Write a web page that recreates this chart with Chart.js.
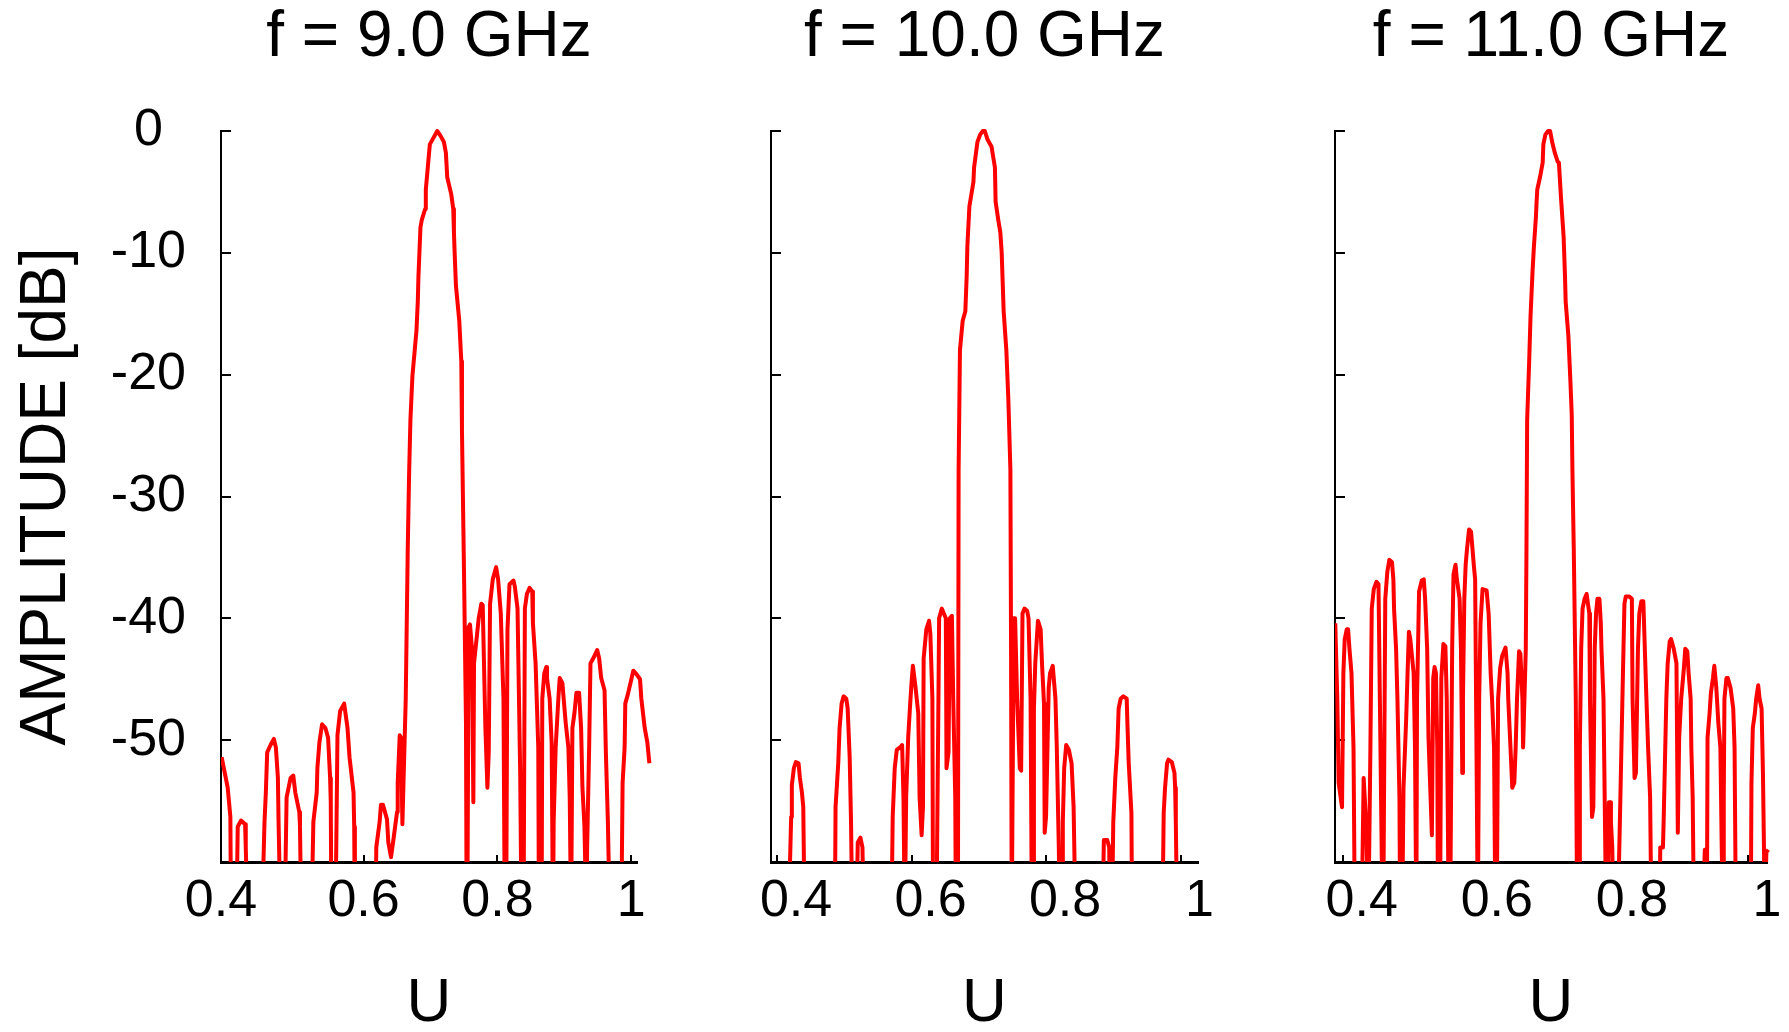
<!DOCTYPE html>
<html>
<head>
<meta charset="utf-8">
<script src="https://cdn.jsdelivr.net/npm/chart.js@4"></script>
<style>
  html, body { margin: 0; padding: 0; background: #fff; overflow: hidden; }
  #wrap { position: relative; width: 1789px; height: 1032px; }
  canvas { position: absolute; top: 0; }
</style>
</head>
<body>
<div id="wrap">
  <canvas id="c9" width="680" height="1032" style="left:0px"></canvas>
  <canvas id="c10" width="540" height="1032" style="left:700px"></canvas>
  <canvas id="c11" width="519" height="1032" style="left:1270px"></canvas>
</div>
<script>
const xTicks = [0.4, 0.6, 0.8, 1];
const yTicks = [-50, -40, -30, -20, -10, 0];
const titles = ['f = 9.0 GHz', 'f = 10.0 GHz', 'f = 11.0 GHz'];

// f = 9.0 GHz  (values below -60 dB are off the axis)
const u9 = [
  0.388, 0.397, 0.401, 0.402,
  0.410, 0.412, 0.417, 0.423, 0.424, 0.427,
  0.448, 0.452, 0.454, 0.456, 0.461, 0.466, 0.469, 0.472, 0.473, 0.476,
  0.482, 0.485, 0.491, 0.495, 0.498, 0.504, 0.505, 0.507,
  0.522, 0.525, 0.530, 0.531, 0.534, 0.538, 0.543, 0.547, 0.550, 0.551, 0.552,
  0.558, 0.561, 0.565, 0.571, 0.576, 0.579, 0.585, 0.586, 0.587,
  0.618, 0.619, 0.624, 0.626, 0.629, 0.635, 0.637, 0.641, 0.645, 0.650, 0.651, 0.654, 0.656, 0.658,
  0.663, 0.666, 0.668, 0.670, 0.673, 0.679, 0.681, 0.682, 0.685, 0.687, 0.692, 0.693, 0.699, 0.705, 0.710,
  0.715, 0.720, 0.723, 0.724, 0.725, 0.731, 0.734, 0.735, 0.736, 0.738, 0.743, 0.746, 0.747, 0.750, 0.753, 0.754,
  0.755, 0.757, 0.759, 0.762, 0.764, 0.765, 0.772, 0.776, 0.778, 0.782, 0.785, 0.787, 0.789, 0.793, 0.798, 0.801, 0.805, 0.809, 0.811,
  0.813, 0.815, 0.818, 0.824, 0.826, 0.830, 0.834, 0.836,
  0.839, 0.841, 0.844, 0.848, 0.852, 0.853, 0.857, 0.861, 0.862,
  0.866, 0.867, 0.870, 0.873, 0.874, 0.878, 0.881, 0.883,
  0.884, 0.887, 0.891, 0.893, 0.897, 0.902, 0.906, 0.908, 0.910,
  0.912, 0.915, 0.918, 0.922, 0.925, 0.927, 0.930, 0.933,
  0.934, 0.937, 0.939, 0.943, 0.949, 0.952, 0.955, 0.960, 0.962, 0.965, 0.968,
  0.985, 0.987, 0.990, 0.991, 0.995, 1.003, 1.008, 1.013, 1.015, 1.020, 1.024, 1.027
];
const amp9 = [
  -51.4, -53.9, -56.3, -65,
  -65, -57.1, -56.6, -56.9, -58.8, -65,
  -65, -56.7, -54.3, -51.0, -50.4, -49.9, -50.6, -53.1, -56.7, -65,
  -65, -54.7, -53.1, -52.9, -54.3, -55.9, -57.1, -65,
  -65, -56.7, -54.3, -52.3, -50.2, -48.7, -49.0, -49.8, -53.1, -55.1, -65,
  -65, -49.6, -47.6, -47.0, -49.0, -51.4, -54.3, -57.1, -65,
  -65, -58.8, -56.7, -55.3, -55.3, -56.5, -58.4, -59.6, -58.0, -55.9, -53.5, -49.6, -49.8, -56.9,
  -46.6, -34.3, -28.2, -23.7, -20.1, -16.4, -14.0, -11.9, -7.9, -7.3, -6.4, -4.8, -1.1, -0.5, 0,
  -0.4, -0.9, -1.8, -2.8, -3.8, -5.2, -6.4, -8.3, -9.9, -12.7, -15.6, -18.9, -24.6, -36.0, -48.6, -65,
  -65, -40.7, -40.5, -42.5, -55.1, -43.7, -40.0, -38.8, -38.9, -49.0, -53.9, -51.0, -38.8, -36.8, -35.8, -36.8, -39.6, -46.6, -65,
  -65, -40.9, -37.2, -36.9, -37.4, -39.2, -52.7, -65,
  -65, -39.2, -38.0, -37.5, -37.8, -40.4, -43.7, -50.6, -65,
  -65, -46.6, -44.5, -44.0, -44.9, -46.6, -50.2, -65,
  -56.7, -50.6, -46.6, -44.9, -45.3, -48.6, -50.6, -54.7, -65,
  -49.0, -47.8, -46.1, -46.1, -49.0, -53.9, -57.1, -65,
  -58.8, -50.6, -43.7, -43.3, -42.6, -43.3, -44.9, -45.9, -51.0, -56.7, -65,
  -65, -53.5, -50.6, -47.0, -46.2, -44.3, -44.6, -45.0, -46.6, -49.0, -50.2, -51.9
];

// f = 10.0 GHz
const u10 = [
  0.391, 0.417, 0.421, 0.422, 0.425, 0.428, 0.432, 0.434, 0.437, 0.439, 0.441,
  0.486, 0.487, 0.491, 0.493, 0.496, 0.499, 0.503, 0.505, 0.508, 0.510, 0.512,
  0.518, 0.520, 0.524, 0.527, 0.529,
  0.570, 0.572, 0.575, 0.578, 0.583, 0.586, 0.588, 0.590,
  0.592, 0.595, 0.598, 0.600, 0.602, 0.606, 0.610, 0.612, 0.615, 0.617, 0.618, 0.620, 0.622, 0.626, 0.628, 0.631, 0.632,
  0.637, 0.640, 0.641, 0.645, 0.648, 0.651, 0.652, 0.655, 0.657, 0.660, 0.662, 0.665, 0.666,
  0.669, 0.670, 0.672, 0.676, 0.680, 0.682, 0.683, 0.686, 0.692, 0.693, 0.698, 0.702, 0.706, 0.709,
  0.713, 0.719, 0.724, 0.725, 0.729, 0.732, 0.734, 0.737, 0.741, 0.744, 0.747, 0.748, 0.749,
  0.752, 0.754, 0.757, 0.761, 0.763, 0.765, 0.768, 0.772, 0.774, 0.777, 0.779,
  0.781, 0.782, 0.784, 0.788, 0.792, 0.794, 0.797, 0.798, 0.800, 0.804, 0.806, 0.810, 0.814, 0.816, 0.819, 0.821,
  0.824, 0.825, 0.827, 0.830, 0.834, 0.838, 0.841, 0.844,
  0.884, 0.886, 0.891, 0.894, 0.895,
  0.898, 0.900, 0.903, 0.906, 0.908, 0.911, 0.915, 0.920, 0.921, 0.923, 0.927, 0.928,
  0.973, 0.975, 0.977, 0.980, 0.982, 0.987, 0.991, 0.992, 0.993, 0.995, 1.026
];
const amp10 = [
  -65, -65, -56.3, -53.7, -52.3, -51.8, -51.9, -53.1, -54.3, -55.5, -65,
  -65, -55.5, -51.9, -49.0, -47.0, -46.4, -46.6, -47.4, -51.4, -56.7, -65,
  -65, -58.4, -58.0, -58.8, -65,
  -65, -56.3, -52.3, -50.8, -50.6, -50.4, -54.7, -65,
  -54.7, -49.8, -47.0, -45.3, -43.9, -45.7, -47.8, -54.7, -57.8, -55.5, -43.3, -42.1, -40.9, -40.2, -41.3, -46.6, -65,
  -65, -46.6, -40.0, -39.2, -39.6, -40.0, -52.3, -51.0, -40.0, -39.8, -46.6, -54.7, -65,
  -65, -27.8, -18.0, -15.6, -14.8, -11.9, -9.5, -6.2, -4.2, -3.0, -0.9, -0.3, 0, 0,
  -0.7, -1.3, -3.0, -5.8, -7.3, -8.3, -9.9, -14.8, -18.0, -22.1, -27.8, -42.5, -65,
  -40.0, -40.0, -46.6, -52.3, -52.5, -39.6, -39.2, -39.4, -40.0, -46.6, -65,
  -65, -47.4, -43.7, -40.2, -40.9, -43.7, -47.0, -57.6, -56.3, -45.7, -44.5, -43.9, -46.6, -50.6, -58.8, -65,
  -65, -56.7, -52.3, -50.4, -50.8, -51.9, -55.5, -65,
  -65, -58.2, -58.2, -58.8, -65,
  -65, -56.7, -53.1, -50.6, -47.4, -46.6, -46.4, -46.6, -48.6, -51.9, -56.0, -65,
  -65, -56.0, -53.9, -51.9, -51.6, -51.8, -52.7, -53.9, -56.7, -65, -65
];

// f = 11.0 GHz
const u11 = [
  0.389, 0.392, 0.394, 0.399, 0.400, 0.401, 0.403, 0.406, 0.408, 0.410, 0.413, 0.416, 0.418,
  0.428, 0.431, 0.435, 0.438,
  0.441, 0.443, 0.446, 0.450, 0.453, 0.455, 0.459,
  0.460, 0.463, 0.466, 0.469, 0.473, 0.475, 0.476, 0.479, 0.481, 0.484, 0.485,
  0.488, 0.490, 0.494, 0.496, 0.498, 0.500, 0.505, 0.507, 0.509,
  0.510, 0.512, 0.513, 0.517, 0.520, 0.522, 0.525, 0.527, 0.532, 0.534, 0.536, 0.538, 0.540, 0.541,
  0.544, 0.546, 0.549, 0.552, 0.554, 0.557,
  0.559, 0.562, 0.564, 0.567, 0.569, 0.573, 0.575, 0.577, 0.578, 0.580, 0.582, 0.584, 0.587, 0.590, 0.594, 0.596, 0.598, 0.600,
  0.602, 0.604, 0.607, 0.613, 0.616, 0.619, 0.621, 0.624, 0.626,
  0.628, 0.630, 0.633, 0.636, 0.641, 0.644, 0.645, 0.648, 0.651, 0.654, 0.656, 0.658, 0.661, 0.663, 0.666, 0.667,
  0.671, 0.672, 0.673, 0.676, 0.678, 0.681, 0.683, 0.686, 0.687, 0.688, 0.692, 0.696, 0.697, 0.700, 0.704,
  0.707, 0.710, 0.714, 0.718, 0.720, 0.723, 0.727, 0.729, 0.730, 0.734, 0.737, 0.739, 0.740, 0.742, 0.745, 0.747,
  0.750, 0.751, 0.753, 0.755, 0.758, 0.761, 0.765, 0.766, 0.769, 0.771, 0.773, 0.775, 0.777, 0.780, 0.782, 0.783, 0.786, 0.790,
  0.792, 0.794, 0.796, 0.797, 0.799, 0.801,
  0.807, 0.811, 0.814, 0.817, 0.819, 0.824, 0.828, 0.829, 0.832, 0.834, 0.837, 0.839, 0.842, 0.845, 0.846, 0.849, 0.852, 0.855, 0.857,
  0.869, 0.870, 0.874, 0.875, 0.879, 0.881, 0.884, 0.886, 0.890, 0.894, 0.896, 0.898, 0.901, 0.905, 0.907, 0.910, 0.912, 0.915, 0.916, 0.918, 0.920,
  0.932, 0.936, 0.938, 0.939, 0.940, 0.943, 0.945, 0.948, 0.950, 0.953, 0.956, 0.959, 0.961, 0.963,
  0.964, 0.965, 0.968, 0.970, 0.974, 0.978, 0.980, 0.982,
  1.004, 1.005, 1.007, 1.010, 1.012, 1.015, 1.017, 1.020, 1.022, 1.025, 1.027, 1.030
];
const amp11 = [
  -40.4, -46.6, -53.5, -55.5, -55.5, -44.5, -41.7, -40.9, -40.9, -42.5, -44.5, -50.6, -65,
  -65, -53.1, -57.1, -65,
  -50.6, -39.2, -37.6, -37.0, -37.2, -46.6, -65,
  -65, -38.4, -36.2, -35.2, -35.4, -36.8, -39.2, -42.5, -46.6, -54.7, -65,
  -65, -53.9, -48.2, -44.5, -41.1, -41.7, -44.5, -50.6, -65,
  -46.6, -40.9, -37.8, -36.9, -36.8, -38.4, -42.5, -49.8, -57.8, -44.9, -44.0, -44.5, -50.6, -65,
  -65, -44.9, -42.1, -42.3, -46.6, -65,
  -65, -42.5, -36.4, -35.6, -36.8, -38.4, -42.5, -52.7, -46.6, -38.4, -35.6, -34.3, -32.7, -32.9, -35.6, -36.8, -50.6, -65,
  -46.6, -40.4, -37.6, -37.7, -39.6, -44.5, -46.6, -50.6, -65,
  -65, -46.6, -44.1, -43.1, -42.4, -44.5, -46.6, -50.2, -53.9, -53.5, -50.6, -46.6, -42.7, -42.9, -46.6, -50.6,
  -42.5, -34.3, -23.7, -18.9, -15.2, -11.5, -9.5, -7.0, -5.8, -4.8, -3.8, -2.6, -1.1, -0.3, 0,
  0, -0.9, -1.8, -2.5, -2.6, -5.4, -8.7, -11.9, -14.0, -16.8, -20.5, -23.3, -27.8, -34.3, -46.6, -65,
  -65, -50.6, -42.5, -39.2, -38.4, -38.0, -39.6, -46.6, -56.3, -55.5, -42.5, -39.6, -38.4, -38.4, -40.4, -42.5, -46.6, -65,
  -65, -55.1, -55.1, -56.7, -58.8, -65,
  -65, -54.7, -46.6, -38.8, -38.2, -38.2, -38.4, -46.6, -53.1, -52.7, -42.5, -39.6, -38.6, -38.6, -40.4, -45.7, -50.6, -54.7, -65,
  -65, -58.8, -58.8, -56.7, -46.6, -43.7, -41.9, -41.7, -42.5, -43.7, -57.6, -49.8, -46.6, -44.1, -42.5, -42.7, -44.5, -46.6, -50.6, -54.7, -65,
  -65, -59.0, -59.2, -65, -49.8, -47.8, -46.1, -44.9, -43.9, -45.7, -48.6, -50.6, -58.8, -65,
  -54.7, -46.6, -44.9, -44.9, -45.7, -47.4, -50.6, -65,
  -65, -53.5, -49.0, -47.8, -46.6, -45.5, -46.6, -47.4, -52.7, -65, -59.2, -59.0
];

Chart.defaults.font.family = '"Liberation Sans", Arial, sans-serif';
Chart.defaults.color = '#000';

function makePanel(id, title, u, amp, opt) {
    const ctx = document.getElementById(id).getContext('2d');
    return new Chart(ctx, {
        type: 'line',
        data: {
            datasets: [{
                data: u.map((x, i) => ({ x: x, y: amp[i] })),
                borderColor: '#ff0000',
                borderWidth: 4,
                pointRadius: 0,
                tension: 0,
                borderJoinStyle: 'round',
                clip: { left: 0, top: false, right: false, bottom: 0 }
            }]
        },
        options: {
            responsive: false,
            animation: false,
            layout: { padding: { left: 0, right: opt.padRight, top: 0, bottom: 0 } },
            plugins: {
                legend: { display: false },
                tooltip: { enabled: false },
                title: {
                    display: true,
                    text: title,
                    fullSize: false,
                    color: '#000',
                    font: { size: 64, weight: 'normal' },
                    padding: { top: 0, bottom: 54.2 }
                }
            },
            scales: {
                x: {
                    type: 'linear',
                    bounds: 'data',
                    // range set here (not via min/max) so the line may run past the axis end
                    afterDataLimits: s => { s.min = opt.xMin; s.max = opt.xMax; },
                    afterBuildTicks: s => {
                        s.ticks = xTicks.map((v, i) => ({ value: (i === 0 && opt.firstAtAxis) ? opt.xMin : v }));
                    },
                    afterFit: s => { s.height = 170; },
                    ticks: {
                        font: { size: 52 },
                        padding: 15,
                        labelOffset: opt.labelOffset,
                        maxRotation: 0,
                        autoSkip: false,
                        callback: (v, i) => String(xTicks[i])
                    },
                    grid: { drawOnChartArea: false, tickLength: -7, color: '#000', lineWidth: 2 },
                    border: { color: '#000', width: 3 },
                    title: { display: true, text: 'U', font: { size: 62, lineHeight: 0.9 }, padding: 0 }
                },
                y: {
                    min: -60,
                    max: 0,
                    afterBuildTicks: s => { s.ticks = yTicks.map(v => ({ value: v })); },
                    afterFit: s => { s.width = opt.yWidth; },
                    ticks: {
                        display: opt.showY,
                        font: { size: 52 },
                        padding: 45,
                        crossAlign: 'center',
                        autoSkip: false,
                        callback: v => String(v)
                    },
                    grid: { drawOnChartArea: false, tickLength: -10, color: '#000', lineWidth: 2 },
                    border: { color: '#000', width: 2 },
                    title: { display: opt.showY, text: 'AMPLITUDE [dB]', font: { size: 64 }, padding: { top: 8.6, bottom: 0 } }
                }
            }
        }
    });
}

makePanel('c9', titles[0], u9, amp9, { xMin: 0.387, xMax: 1.0085, yWidth: 221, padRight: 43, labelOffset: 0, showY: true, firstAtAxis: true });
makePanel('c10', titles[1], u10, amp10, { xMin: 0.391, xMax: 1.026, yWidth: 71, padRight: 42, labelOffset: 19, showY: false, firstAtAxis: false });
makePanel('c11', titles[2], u11, amp11, { xMin: 0.3886, xMax: 1.028, yWidth: 65, padRight: 22, labelOffset: 19, showY: false, firstAtAxis: false });
</script>
</body>
</html>
